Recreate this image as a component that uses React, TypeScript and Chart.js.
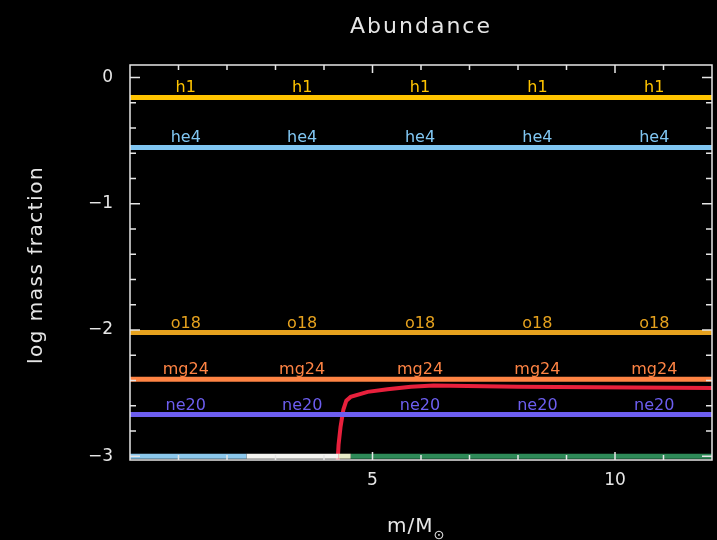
import React, { useEffect, useRef } from "react";
import { Chart, registerables } from "chart.js";

Chart.register(...registerables);

// ---- data ----
const massEdges = [0, 12];
const h1Values = [-0.157, -0.157];
const he4Values = [-0.553, -0.553];
const o18Values = [-2.02, -2.02];
const mg24Values = [-2.39, -2.39];
const ne20Values = [-2.67, -2.67];

const redMass = [4.28, 4.3, 4.34, 4.4, 4.46, 4.55, 4.9, 5.31, 5.79, 6.26, 8.0, 12.0];
const redValues = [-3.05, -2.91, -2.77, -2.63, -2.56, -2.53, -2.49, -2.47, -2.45, -2.44, -2.45, -2.46];

const floorBlueMass = [0, 2.4];
const floorWhiteMass = [2.4, 4.3];
const floorPaleMass = [4.3, 4.55];
const floorGreenMass = [4.55, 12];
const floorValue = [-3.0, -3.0];

const labelMass = [1.15, 3.55, 5.98, 8.4, 10.81];
const yTickValues = [-3, -2, -1, 0];
const xTickValues = [5, 10];

const pts = (xs: number[], ys: number[]) => xs.map((x, i) => ({ x, y: ys[i] }));

const series = [
  { name: "h1", xs: massEdges, ys: h1Values, color: "#ffc400", labeled: true },
  { name: "he4", xs: massEdges, ys: he4Values, color: "#80c6f2", labeled: true },
  { name: "o18", xs: massEdges, ys: o18Values, color: "#e6a21e", labeled: true },
  { name: "mg24", xs: massEdges, ys: mg24Values, color: "#ff8444", labeled: true },
  { name: "ne20", xs: massEdges, ys: ne20Values, color: "#6d5ef0", labeled: true },
  { name: "floor1", xs: floorBlueMass, ys: floorValue, color: "#8cc8ec", labeled: false },
  { name: "floor2", xs: floorWhiteMass, ys: floorValue, color: "#f4f4f0", labeled: false },
  { name: "floor3", xs: floorPaleMass, ys: floorValue, color: "#e8ecc8", labeled: false },
  { name: "floor4", xs: floorGreenMass, ys: floorValue, color: "#2e8a58", labeled: false },
  { name: "red", xs: redMass, ys: redValues, color: "#e8203c", labeled: false },
];

const FG = "#e6e6e6";

const decorPlugin = {
  id: "decor",
  afterDatasetsDraw(chart: any) {
    const { ctx, chartArea: a, scales } = chart;
    const xs = scales.x;
    const ys = scales.y;
    ctx.save();
    // series labels
    ctx.font = "16px 'DejaVu Sans'";
    ctx.textAlign = "center";
    ctx.textBaseline = "alphabetic";
    series.forEach((s) => {
      if (!s.labeled) return;
      ctx.fillStyle = s.color;
      const py = ys.getPixelForValue(s.ys[0]);
      labelMass.forEach((m) => {
        ctx.fillText(s.name, xs.getPixelForValue(m), py - 5);
      });
    });
    // frame
    ctx.strokeStyle = FG;
    ctx.lineWidth = 1.5;
    ctx.strokeRect(a.left, a.top, a.right - a.left, a.bottom - a.top);
    // y ticks (left & right), every 0.2
    for (let i = 0; i <= 15; i++) {
      const v = -3 + i * 0.2;
      if (v > ys.max) break;
      const p = ys.getPixelForValue(v);
      const major = Math.abs(v - Math.round(v)) < 1e-6;
      const len = major ? 10 : 6;
      ctx.beginPath();
      ctx.moveTo(a.left, p);
      ctx.lineTo(a.left + len, p);
      ctx.moveTo(a.right, p);
      ctx.lineTo(a.right - len, p);
      ctx.stroke();
    }
    // x ticks (top & bottom), every 1
    for (let v = 1; v < 12; v++) {
      const p = xs.getPixelForValue(v);
      const major = v % 5 === 0;
      const len = major ? 8 : 5;
      ctx.beginPath();
      ctx.moveTo(p, a.top);
      ctx.lineTo(p, a.top + len);
      ctx.moveTo(p, a.bottom);
      ctx.lineTo(p, a.bottom - len);
      ctx.stroke();
    }
    ctx.restore();
  },
  afterDraw(chart: any) {
    const { ctx, chartArea: a } = chart;
    ctx.save();
    ctx.fillStyle = FG;
    // title
    ctx.font = "22px 'DejaVu Sans'";
    ctx.textAlign = "center";
    ctx.textBaseline = "middle";
    (ctx as any).letterSpacing = "2px";
    ctx.fillText("Abundance", (a.left + a.right) / 2, 27);
    // y title
    (ctx as any).letterSpacing = "1.5px";
    ctx.save();
    ctx.translate(37, 265);
    ctx.rotate(-Math.PI / 2);
    ctx.font = "20px 'DejaVu Sans'";
    ctx.fillText("log mass fraction", 0, 0);
    ctx.restore();
    // x title m/M_sun
    (ctx as any).letterSpacing = "1px";
    ctx.font = "20px 'DejaVu Sans'";
    ctx.textAlign = "left";
    ctx.textBaseline = "alphabetic";
    const main = "m/M";
    const w = ctx.measureText(main).width;
    const x0 = 387;
    ctx.fillText(main, x0, 532);
    ctx.font = "13px 'DejaVu Sans'";
    (ctx as any).letterSpacing = "0px";
    ctx.fillText("\u2299", x0 + w, 539);
    ctx.restore();
  },
};

export default function App() {
  const ref = useRef<HTMLCanvasElement>(null);
  useEffect(() => {
    if (!ref.current) return;
    const chart = new Chart(ref.current, {
      type: "line",
      data: {
        datasets: series.map((s) => ({
          label: s.name,
          data: pts(s.xs, s.ys),
          borderColor: s.color,
          backgroundColor: s.color,
          borderWidth: s.name === "red" ? 4 : 5,
          pointRadius: 0,
          tension: 0,
          fill: false,
        })),
      },
      options: {
        responsive: false,
        maintainAspectRatio: false,
        animation: false,
        events: [],
        layout: { padding: { top: 65, right: 5, left: 0, bottom: 0 } },
        plugins: { legend: { display: false }, tooltip: { enabled: false }, title: { display: false } },
        scales: {
          x: {
            type: "linear",
            min: 0,
            max: 12,
            grid: { display: false, drawTicks: false },
            border: { display: false },
            afterBuildTicks: (s: any) => {
              s.ticks = xTickValues.map((v) => ({ value: v }));
            },
            afterFit: (s: any) => {
              s.height = 80;
            },
            ticks: {
              color: FG,
              font: { family: "'DejaVu Sans'", size: 17 },
              padding: 10,
              maxRotation: 0,
              callback: (v: any) => String(v),
            },
          },
          y: {
            type: "linear",
            min: -3.03,
            max: 0.1,
            grid: { display: false, drawTicks: false },
            border: { display: false },
            afterBuildTicks: (s: any) => {
              s.ticks = yTickValues.map((v) => ({ value: v }));
            },
            afterFit: (s: any) => {
              s.width = 130;
            },
            ticks: {
              color: FG,
              font: { family: "'DejaVu Sans'", size: 17 },
              padding: 17,
              callback: (v: any) => (v < 0 ? "\u2212" + Math.abs(v) : String(v)),
            },
          },
        },
      },
      plugins: [decorPlugin],
    });
    return () => chart.destroy();
  }, []);
  return (
    <div style={{ position: "fixed", left: 0, top: 0, width: 717, height: 540, background: "#000" }}>
      <canvas ref={ref} width={717} height={540} style={{ display: "block" }} />
    </div>
  );
}
